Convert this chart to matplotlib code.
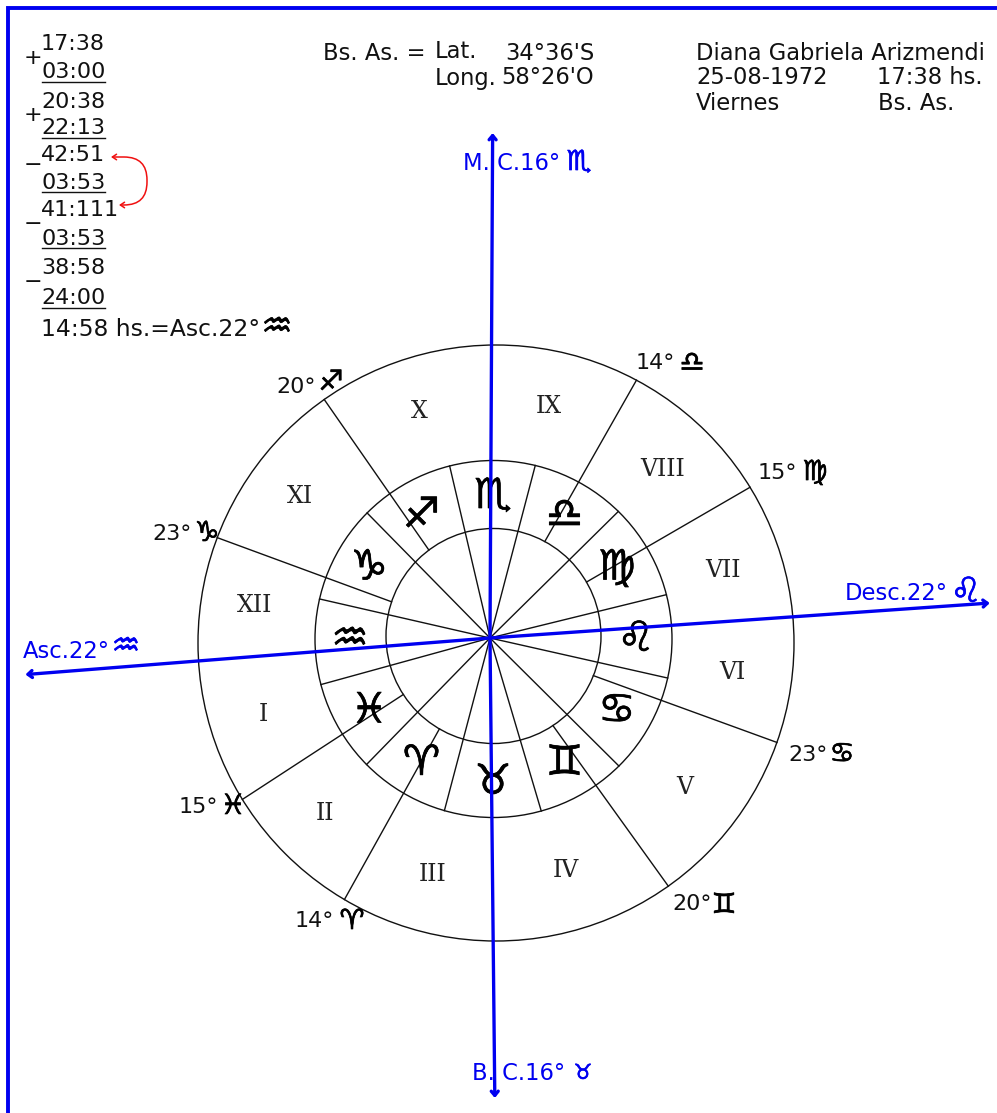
import numpy as np
import matplotlib
matplotlib.use('Agg')
import matplotlib.pyplot as plt
import matplotlib.patheffects as pe
from matplotlib.patches import Circle

BLUE = '#0000f0'
INK = '#111111'

# Ring radii
OUTER_R = 298
MIDDLE_R = 178.5
INNER_R = 107.5

# Angles in degrees, counter-clockwise from the right, seen from the hub
SIGN_LINE_ANGLES = [103.2, 75.3, 44.6, 13.8, -12.7, -44.8, -73.5, 255.2, 225.7, 195.4, 167.1, 134.5]
HOUSE_LINE_ANGLES = [60.4, 30.1, -20.0, -54.3, 240.9, 213.1, 159.8, 124.8]

SIGNS = ['♏', '♎', '♍', '♌', '♋', '♊', '♉', '♈', '♓', '♒', '♑', '♐']
SIGN_ANGLES = [90, 60, 30, 0, -30, -60, -90, -120, -150, 180, 150, 120]

HOUSES = ['IX', 'VIII', 'VII', 'VI', 'V', 'IV', 'III', 'II', 'I', 'XII', 'XI', 'X']
HOUSE_ANGLES = [76.7, 45.2, 17.0, -7.6, -37.3, -72.3, 255.4, 225.7, 197.8, 171.6, 143.2, 107.8]

AXIS_ANGLES = [89.7, -89.4, 184.5, 4.0]
AXIS_REACH = [505, 460, 466, 501]

CUSP_DEGREES = ['14°', '15°', '23°', '20°', '14°', '15°', '23°', '20°']
CUSP_SIGNS = ['♎', '♍', '♋', '♊', '♈', '♓', '♑', '♐']
AXIS_LABELS = ['M. C.16°', 'B. C.16°', 'Asc.22°', 'Desc.22°']
AXIS_SIGNS = ['♏', '♉', '♒', '♌']

TIMES = ['17:38', '03:00', '20:38', '22:13', '42:51', '03:53', '41:111', '03:53', '38:58', '24:00']
RESULT = '14:58 hs.=Asc.22°'
RESULT_SIGN = '♒'

HEADER = ['Bs. As. =', 'Lat.', 'Long.', 'Diana Gabriela Arizmendi', '25-08-1972', '17:38 hs.', 'Viernes', 'Bs. As.']
COORDS = ["34°36'S", "58°26'O"]

hub = np.array([490.0, 638.0])
ring_centres = {OUTER_R: (496, 643), MIDDLE_R: (493.5, 639), INNER_R: (493.5, 636)}


def from_hub(angle, r, origin=hub):
    a = np.radians(angle)
    return origin[0] + r * np.cos(a), origin[1] - r * np.sin(a)


def ray_to_ring(angle, radius):
    # distance from hub along the ray until it meets the ring
    c = np.array(ring_centres[radius], dtype=float)
    a = np.radians(angle)
    d = np.array([np.cos(a), -np.sin(a)])
    f = hub - c
    b = f @ d
    return -b + np.sqrt(b * b - f @ f + radius ** 2)


def glyph(x, y, s, size, color='black'):
    stroke = [pe.withStroke(linewidth=0.5, foreground=color)]
    ax.text(x, y, s, fontsize=size, ha='center', va='center', color=color,
            fontweight='bold', path_effects=stroke)


fig = plt.figure(figsize=(9.97, 11.13), dpi=100)
ax = fig.add_axes([0, 0, 1, 1])
ax.set_xlim(0, 997)
ax.set_ylim(1113, 0)
ax.axis('off')

# border
ax.plot([8, 8, 997], [1113, 8, 8], color=BLUE, lw=2.8, solid_joinstyle='miter')

for radius, c in ring_centres.items():
    ax.add_patch(Circle(c, radius, fill=False, ec=INK, lw=1.0))

for ang in SIGN_LINE_ANGLES:
    x, y = from_hub(ang, ray_to_ring(ang, MIDDLE_R))
    ax.plot([hub[0], x], [hub[1], y], color=INK, lw=1.0)

for ang in HOUSE_LINE_ANGLES:
    x0, y0 = from_hub(ang, ray_to_ring(ang, INNER_R))
    x1, y1 = from_hub(ang, ray_to_ring(ang, OUTER_R))
    ax.plot([x0, x1], [y0, y1], color=INK, lw=1.0)

# zodiac signs in the ring, roman numerals in the houses
for s, ang in zip(SIGNS, SIGN_ANGLES):
    x, y = from_hub(ang, 143, (493, 639))
    glyph(x, y, s, 30)

for h, ang in zip(HOUSES, HOUSE_ANGLES):
    x, y = from_hub(ang, 241, (493, 641))
    ax.text(x, y, h, fontsize=17, ha='center', va='center', color='#222222', family='DejaVu Serif')

# meridian and horizon
for ang, reach in zip(AXIS_ANGLES, AXIS_REACH):
    ax.annotate('', xy=from_hub(ang, reach), xytext=tuple(hub),
                arrowprops=dict(arrowstyle='->,head_length=0.3,head_width=0.25', color=BLUE,
                                lw=2.4, shrinkA=0, shrinkB=0))

cusp_pos = [(636, 363), (758, 473), (788, 755), (672, 904), (295, 921), (179, 807), (152, 534), (276, 387)]
cusp_sign_pos = [(692, 363), (815, 472), (842, 754), (724, 905), (352, 921), (233, 806), (207, 533), (331, 382)]
for s, (x, y) in zip(CUSP_DEGREES, cusp_pos):
    ax.text(x, y, s, fontsize=16, va='center', color=INK)
for s, (x, y) in zip(CUSP_SIGNS, cusp_sign_pos):
    glyph(x, y, s, 20)

axis_pos = [(463, 163), (472, 1074), (23, 651), (845, 593)]
axis_sign_pos = [(579, 162), (583, 1073), (126, 647), (966, 592)]
axis_sign_size = [20, 15, 23, 25]
for s, (x, y) in zip(AXIS_LABELS, axis_pos):
    ax.text(x, y, s, fontsize=16.3, va='center', color=BLUE)
for s, (x, y), size in zip(AXIS_SIGNS, axis_sign_pos, axis_sign_size):
    glyph(x, y, s, size, BLUE)

# worked sum at top left
time_y = [44, 72, 102, 128, 155, 183, 210, 239, 268, 298]
for s, y in zip(TIMES, time_y):
    ax.text(41, y, s, fontsize=16, va='center', color=INK)
ax.text(41, 329, RESULT, fontsize=16.8, va='center', color=INK)
glyph(277, 327, RESULT_SIGN, 25)

for y in [81.5, 137.5, 192, 248, 307.5]:
    ax.plot([42, 105], [y, y], color=INK, lw=1.0)

for s, y in zip(['+', '+', '−', '−', '−'], [58, 115, 165, 224, 282]):
    ax.text(33, y, s, fontsize=16, ha='center', va='center', color=INK)

ax.annotate('', xy=(111, 157), xytext=(119, 205),
            arrowprops=dict(arrowstyle='<->,head_length=0.3,head_width=0.2', color='#f01010', lw=1.1,
                            connectionstyle='arc,angleA=0,angleB=0,armA=28,armB=36,rad=23',
                            shrinkA=0, shrinkB=0))

# header
header_pos = [(323, 53), (435, 51), (435, 78), (696, 53), (696, 78), (877, 78), (696, 104), (878, 104)]
for s, (x, y) in zip(HEADER, header_pos):
    ax.text(x, y, s, fontsize=16.3, va='center', color=INK)
for s, y in zip(COORDS, [53, 78]):
    ax.text(594, y, s, fontsize=16.3, va='center', ha='right', color=INK)

fig.savefig('out.png', dpi=100)
